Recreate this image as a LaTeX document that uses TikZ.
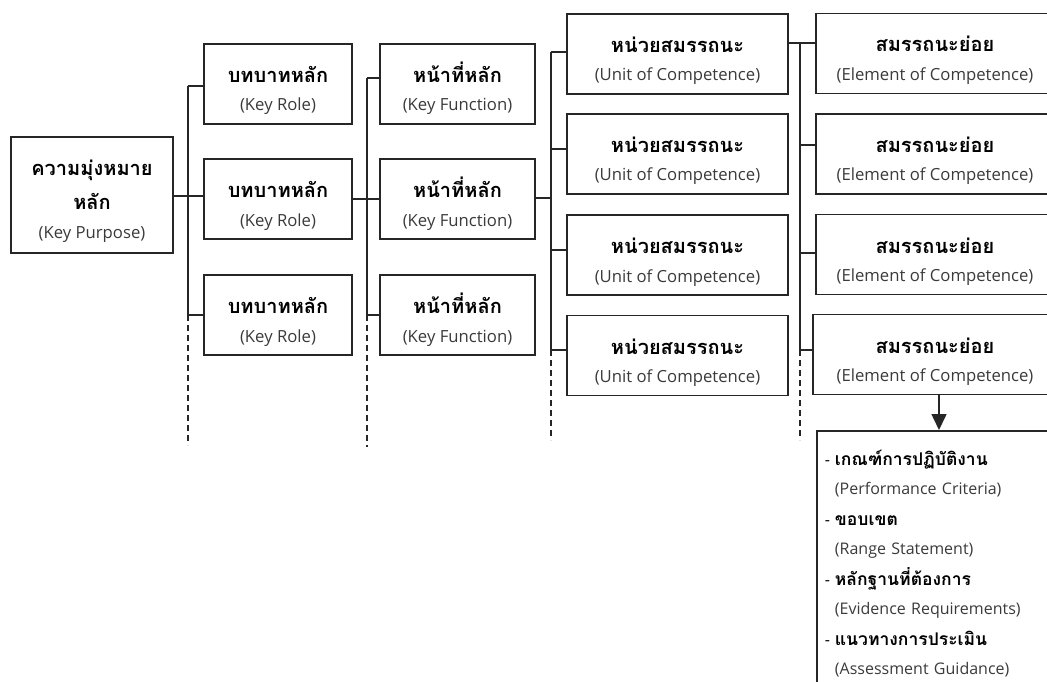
\documentclass[tikz,border=0pt]{standalone}
\usepackage{fontspec}
\newfontfamily\thaifont[Script=Thai]{Loma}
\newfontfamily\enfont{Open Sans}
\usetikzlibrary{arrows.meta}
\definecolor{linec}{HTML}{262626}
\definecolor{engray}{HTML}{3A3A3A}
\newcommand\thb[1]{{\thaifont\bfseries\fontsize{20}{24}\selectfont #1}}
\newcommand\eng[1]{{\enfont\fontsize{16.7}{20}\selectfont\color{engray}#1}}
\newcommand\thd[1]{{\thaifont\bfseries\fontsize{17.5}{21}\selectfont #1}}
\newcommand\ensm[1]{{\enfont\fontsize{16}{20}\selectfont\color{engray}#1}}
\newcommand\dsh{{\enfont\fontsize{16}{20}\selectfont -\hspace{5pt}}}
% two-line box text: Thai over English
\newcommand\twol[2]{\raisebox{0pt}[25.5pt][0pt]{\thb{#1}}\\\raisebox{0pt}[0pt][0pt]{\eng{#2}}}
\newcommand\zr[1]{\raisebox{0pt}[0pt][0pt]{#1}}
\begin{document}
\begin{tikzpicture}[x=1pt,y=-1pt,
  box/.style={draw=linec, line width=1.6pt, align=center, inner sep=0pt,
    minimum height=80pt, font=\fontsize{16}{28.5}\selectfont},
  conn/.style={draw=linec, line width=1.6pt},
  dashconn/.style={draw=linec, line width=1.6pt, dash pattern=on 6pt off 4pt}]
\useasboundingbox (0,0) rectangle (1047,682);
\clip (0,0) rectangle (1047,682);

% Key Purpose
\node[box, minimum width=162pt, minimum height=116pt, font=\fontsize{16}{29}\selectfont] (kp) at (92,195)
  {\raisebox{0pt}[23pt][0pt]{\thb{ความมุ่งหมาย}}\\[5pt]\zr{\thb{หลัก}}\\\zr{\eng{(Key Purpose)}}};

% Key Roles
\node[box, minimum width=148pt] (kr1) at (278,84) {\twol{บทบาทหลัก}{(Key Role)}};
\node[box, minimum width=148pt] (kr2) at (278,199) {\twol{บทบาทหลัก}{(Key Role)}};
\node[box, minimum width=148pt] (kr3) at (278,315) {\twol{บทบาทหลัก}{(Key Role)}};

% Key Functions
\node[box, minimum width=155pt] (kf1) at (457.5,84) {\twol{หน้าที่หลัก}{(Key Function)}};
\node[box, minimum width=155pt] (kf2) at (457.5,199) {\twol{หน้าที่หลัก}{(Key Function)}};
\node[box, minimum width=155pt] (kf3) at (457.5,315) {\twol{หน้าที่หลัก}{(Key Function)}};

% Units of Competence
\node[box, minimum width=221pt] (uc1) at (677.5,54) {\twol{หน่วยสมรรถนะ}{(Unit of Competence)}};
\node[box, minimum width=221pt] (uc2) at (677.5,154) {\twol{หน่วยสมรรถนะ}{(Unit of Competence)}};
\node[box, minimum width=221pt] (uc3) at (677.5,255) {\twol{หน่วยสมรรถนะ}{(Unit of Competence)}};
\node[box, minimum width=221pt] (uc4) at (677.5,355.5) {\twol{หน่วยสมรรถนะ}{(Unit of Competence)}};

% Elements of Competence
\node[box, minimum width=238pt] (el1) at (935,53.5) {\twol{สมรรถนะย่อย}{(Element of Competence)}};
\node[box, minimum width=238pt] (el2) at (935,154) {\twol{สมรรถนะย่อย}{(Element of Competence)}};
\node[box, minimum width=238pt] (el3) at (935,254.5) {\twol{สมรรถนะย่อย}{(Element of Competence)}};
\node[box, minimum width=244pt] (el4) at (935,354.5) {\twol{สมรรถนะย่อย}{(Element of Competence)}};

% Details box
\node[draw=linec, line width=1.6pt, anchor=north west, align=left,
  text width=232pt, inner xsep=8pt, inner ysep=0pt,
  font=\fontsize{16}{28.5}\selectfont] (det) at (816,430)
  {\raisebox{0pt}[35pt][0pt]{\dsh\thd{เกณฑ์การปฏิบัติงาน}}\\
   \zr{\phantom{\dsh}\ensm{(Performance Criteria)}}\\[3pt]
   \zr{\dsh\thd{ขอบเขต}}\\
   \zr{\phantom{\dsh}\ensm{(Range Statement)}}\\[3pt]
   \zr{\dsh\thd{หลักฐานที่ต้องการ}}\\
   \zr{\phantom{\dsh}\ensm{(Evidence Requirements)}}\\[3pt]
   \zr{\dsh\thd{แนวทางการประเมิน}}\\
   \raisebox{0pt}[0pt][25pt]{\phantom{\dsh}\ensm{(Assessment Guidance)}}};

% trunk coordinates
\coordinate (t1) at (188,0);
\coordinate (t1e) at (188,445);
\coordinate (t2) at (367,0);
\coordinate (t2e) at (367,447);
\coordinate (t3) at (551,0);
\coordinate (t3e) at (551,440);
\coordinate (t4) at (800,0);
\coordinate (t4e) at (800,440);

% branch attachment points
\coordinate (akp) at ([yshift=-1pt]kp.east);
\coordinate (akr1) at ([yshift=-2pt]kr1.west);
\coordinate (akf1) at ([yshift=6pt]kf1.west);
\coordinate (akf2) at ([yshift=1pt]kf2.east);
\coordinate (auc1) at ([yshift=2pt]uc1.west);
\coordinate (auc2) at ([yshift=5pt]uc2.west);
\coordinate (auc3) at ([yshift=5pt]uc3.west);
\coordinate (auc4) at ([yshift=5.5pt]uc4.west);
\coordinate (auce) at ([yshift=11pt]uc1.east);
\coordinate (ael2) at ([yshift=9pt]el2.west);
\coordinate (ael3) at ([yshift=1.5pt]el3.west);
\coordinate (ael4) at ([yshift=4.5pt]el4.west);

% level 1
\draw[conn] (akp) -- (akp -| kr2.west);
\draw[conn] (akr1 -| t1) -- (kr3.west -| t1);
\draw[conn] (akr1 -| t1) -- (akr1);
\draw[conn] (kr3.west -| t1) -- (kr3.west);
\draw[dashconn] (kr3.west -| t1) -- (t1e);

% level 2
\draw[conn] (kr2.east) -- (kf2.west);
\draw[conn] (akf1 -| t2) -- (kf3.west -| t2);
\draw[conn] (akf1 -| t2) -- (akf1);
\draw[conn] (kf3.west -| t2) -- (kf3.west);
\draw[dashconn] (kf3.west -| t2) -- (t2e);

% level 3
\draw[conn] (akf2) -- (akf2 -| t3);
\draw[conn] (auc1 -| t3) -- (auc4 -| t3);
\draw[conn] (auc1 -| t3) -- (auc1);
\draw[conn] (auc2 -| t3) -- (auc2);
\draw[conn] (auc3 -| t3) -- (auc3);
\draw[conn] (auc4 -| t3) -- (auc4);
\draw[dashconn] (auc4 -| t3) -- (t3e);

% level 4
\draw[conn] (auce) -- (auce -| el1.west);
\draw[conn] (auce -| t4) -- (ael4 -| t4);
\draw[conn] (ael2 -| t4) -- (ael2);
\draw[conn] (ael3 -| t4) -- (ael3);
\draw[conn] (ael4 -| t4) -- (ael4);
\draw[dashconn] (ael4 -| t4) -- (t4e);

% arrow
\draw[conn, -{Triangle[width=15pt,length=16pt]}] ([xshift=4pt]el4.south) -- ([xshift=4pt]el4.south |- det.north);
\end{tikzpicture}
\end{document}
